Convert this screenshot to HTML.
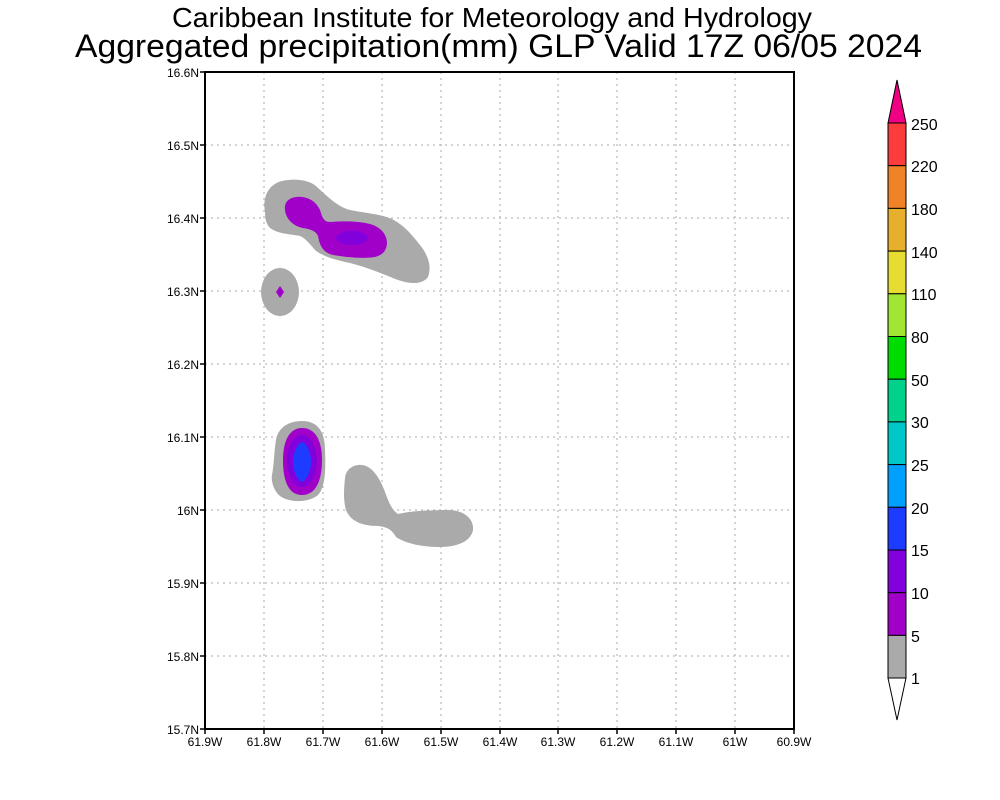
<!DOCTYPE html>
<html><head><meta charset="utf-8"><style>html,body{margin:0;padding:0;background:#fff;}svg{display:block;}</style></head>
<body>
<svg width="1000" height="800" viewBox="0 0 1000 800" xmlns="http://www.w3.org/2000/svg" font-family="Liberation Sans, sans-serif">
<rect width="1000" height="800" fill="#fff"/>
<text x="172" y="27" font-size="28" textLength="640" lengthAdjust="spacingAndGlyphs">Caribbean Institute for Meteorology and Hydrology</text>
<text x="75" y="57" font-size="32" textLength="847" lengthAdjust="spacingAndGlyphs">Aggregated precipitation(mm) GLP Valid 17Z 06/05 2024</text>

<!-- grid -->
<g stroke="#aaa" stroke-width="1" stroke-dasharray="2,4">
<line x1="264" y1="72" x2="264" y2="729"/><line x1="323" y1="72" x2="323" y2="729"/><line x1="382" y1="72" x2="382" y2="729"/><line x1="441" y1="72" x2="441" y2="729"/><line x1="500" y1="72" x2="500" y2="729"/><line x1="558" y1="72" x2="558" y2="729"/><line x1="617" y1="72" x2="617" y2="729"/><line x1="676" y1="72" x2="676" y2="729"/><line x1="735" y1="72" x2="735" y2="729"/>
<line x1="205" y1="145" x2="794" y2="145"/><line x1="205" y1="218" x2="794" y2="218"/><line x1="205" y1="291" x2="794" y2="291"/><line x1="205" y1="364" x2="794" y2="364"/><line x1="205" y1="437" x2="794" y2="437"/><line x1="205" y1="510" x2="794" y2="510"/><line x1="205" y1="583" x2="794" y2="583"/><line x1="205" y1="656" x2="794" y2="656"/>
</g>

<!-- blobs -->
<path fill="#aaaaaa" d="M265,212 C262,195 270,184 282,181 C295,178 310,180 317,187 C328,197 338,207 350,210 C365,213 380,214 392,219 C405,226 412,235 420,245 C428,255 432,266 428,277 C422,285 410,284 398,280 C385,275 370,268 350,263 C335,260 322,256 315,250 C310,244 305,238 300,236 C290,234 278,234 270,228 C266,224 265,218 265,212 Z"/>
<path fill="#a000c8" d="M285,210 C284,202 289,198 296,197 C305,196 315,199 320,210 C322,216 323,222 330,222 C345,221 358,221 370,224 C380,227 386,233 387,242 C387,250 383,255 375,257 C362,259 345,257 333,255 C325,253 320,248 318,236 C316,231 310,229 303,228 C293,226 286,219 285,210 Z"/>
<ellipse cx="352" cy="238" rx="16" ry="7" fill="#8200dc"/>
<ellipse cx="280" cy="292" rx="19" ry="24" fill="#aaaaaa"/>
<path fill="#a000c8" d="M280,286 L284,292 L280,298 L276,292 Z"/>

<path fill="#aaaaaa" d="M276,440 C278,428 288,421 302,421 C318,421 325,432 325,450 C326,470 325,488 318,495 C308,503 290,503 280,496 C273,490 271,480 272,475 C274,465 274,452 276,440 Z"/>
<path fill="#a000c8" d="M302,428 C315,428 322,440 322,460 C322,482 315,495 302,495 C289,495 283,482 283,460 C283,440 290,428 302,428 Z"/>
<ellipse cx="302" cy="461" rx="15" ry="26" fill="#8200dc"/>
<path fill="#1e3cff" d="M302,442 C308,444 311,455 311,462 C311,471 307,480 302,482 C297,480 293,471 293,462 C293,455 296,444 302,442 Z"/>
<path fill="#aaaaaa" d="M345,478 C346,468 355,464 362,465 C372,466 380,478 385,492 C389,503 392,510 398,514 C410,511 430,510 450,510 C466,511 474,520 473,530 C471,541 458,547 440,547 C420,547 405,543 396,537 C392,530 388,527 378,526 C360,526 350,520 346,510 C343,500 344,488 345,478 Z"/>

<!-- frame -->
<rect x="205" y="72" width="589" height="657" fill="none" stroke="#000" stroke-width="2"/>
<g stroke="#000" stroke-width="1.5">
<line x1="205" y1="729" x2="205" y2="734"/><line x1="264" y1="729" x2="264" y2="734"/><line x1="323" y1="729" x2="323" y2="734"/><line x1="382" y1="729" x2="382" y2="734"/><line x1="441" y1="729" x2="441" y2="734"/><line x1="500" y1="729" x2="500" y2="734"/><line x1="558" y1="729" x2="558" y2="734"/><line x1="617" y1="729" x2="617" y2="734"/><line x1="676" y1="729" x2="676" y2="734"/><line x1="735" y1="729" x2="735" y2="734"/><line x1="794" y1="729" x2="794" y2="734"/>
<line x1="200" y1="72" x2="205" y2="72"/><line x1="200" y1="145" x2="205" y2="145"/><line x1="200" y1="218" x2="205" y2="218"/><line x1="200" y1="291" x2="205" y2="291"/><line x1="200" y1="364" x2="205" y2="364"/><line x1="200" y1="437" x2="205" y2="437"/><line x1="200" y1="510" x2="205" y2="510"/><line x1="200" y1="583" x2="205" y2="583"/><line x1="200" y1="656" x2="205" y2="656"/><line x1="200" y1="729" x2="205" y2="729"/>
</g>
<g font-size="12" text-anchor="middle">
<text x="205" y="746">61.9W</text><text x="264" y="746">61.8W</text><text x="323" y="746">61.7W</text><text x="382" y="746">61.6W</text><text x="441" y="746">61.5W</text><text x="500" y="746">61.4W</text><text x="558" y="746">61.3W</text><text x="617" y="746">61.2W</text><text x="676" y="746">61.1W</text><text x="735" y="746">61W</text><text x="794" y="746">60.9W</text>
</g>
<g font-size="12" text-anchor="end">
<text x="199" y="77">16.6N</text><text x="199" y="150">16.5N</text><text x="199" y="223">16.4N</text><text x="199" y="296">16.3N</text><text x="199" y="369">16.2N</text><text x="199" y="442">16.1N</text><text x="199" y="515">16N</text><text x="199" y="588">15.9N</text><text x="199" y="661">15.8N</text><text x="199" y="734">15.7N</text>
</g>

<!-- colorbar -->
<g stroke="#000" stroke-width="1">
<path d="M888,123 L897,80 L906,123 Z" fill="#f00082"/>
<rect x="888" y="123" width="18" height="42.7" fill="#fa3c3c"/>
<rect x="888" y="165.7" width="18" height="42.7" fill="#f08228"/>
<rect x="888" y="208.4" width="18" height="42.7" fill="#e6af2d"/>
<rect x="888" y="251.1" width="18" height="42.7" fill="#e6dc32"/>
<rect x="888" y="293.8" width="18" height="42.7" fill="#a0e632"/>
<rect x="888" y="336.5" width="18" height="42.7" fill="#00dc00"/>
<rect x="888" y="379.2" width="18" height="42.7" fill="#00d28c"/>
<rect x="888" y="421.9" width="18" height="42.7" fill="#00c8c8"/>
<rect x="888" y="464.6" width="18" height="42.7" fill="#00a0ff"/>
<rect x="888" y="507.3" width="18" height="42.7" fill="#1e3cff"/>
<rect x="888" y="550" width="18" height="42.7" fill="#8200dc"/>
<rect x="888" y="592.7" width="18" height="42.7" fill="#a000c8"/>
<rect x="888" y="635.4" width="18" height="42.7" fill="#aaaaaa"/>
<path d="M888,678 L897,720 L906,678 Z" fill="#fff"/>
</g>
<g font-size="16">
<text x="911" y="130">250</text><text x="911" y="172">220</text><text x="911" y="215">180</text><text x="911" y="258">140</text><text x="911" y="300">110</text><text x="911" y="343">80</text><text x="911" y="386">50</text><text x="911" y="428">30</text><text x="911" y="471">25</text><text x="911" y="514">20</text><text x="911" y="556">15</text><text x="911" y="599">10</text><text x="911" y="642">5</text><text x="911" y="684">1</text>
</g>
</svg>
</body></html>
